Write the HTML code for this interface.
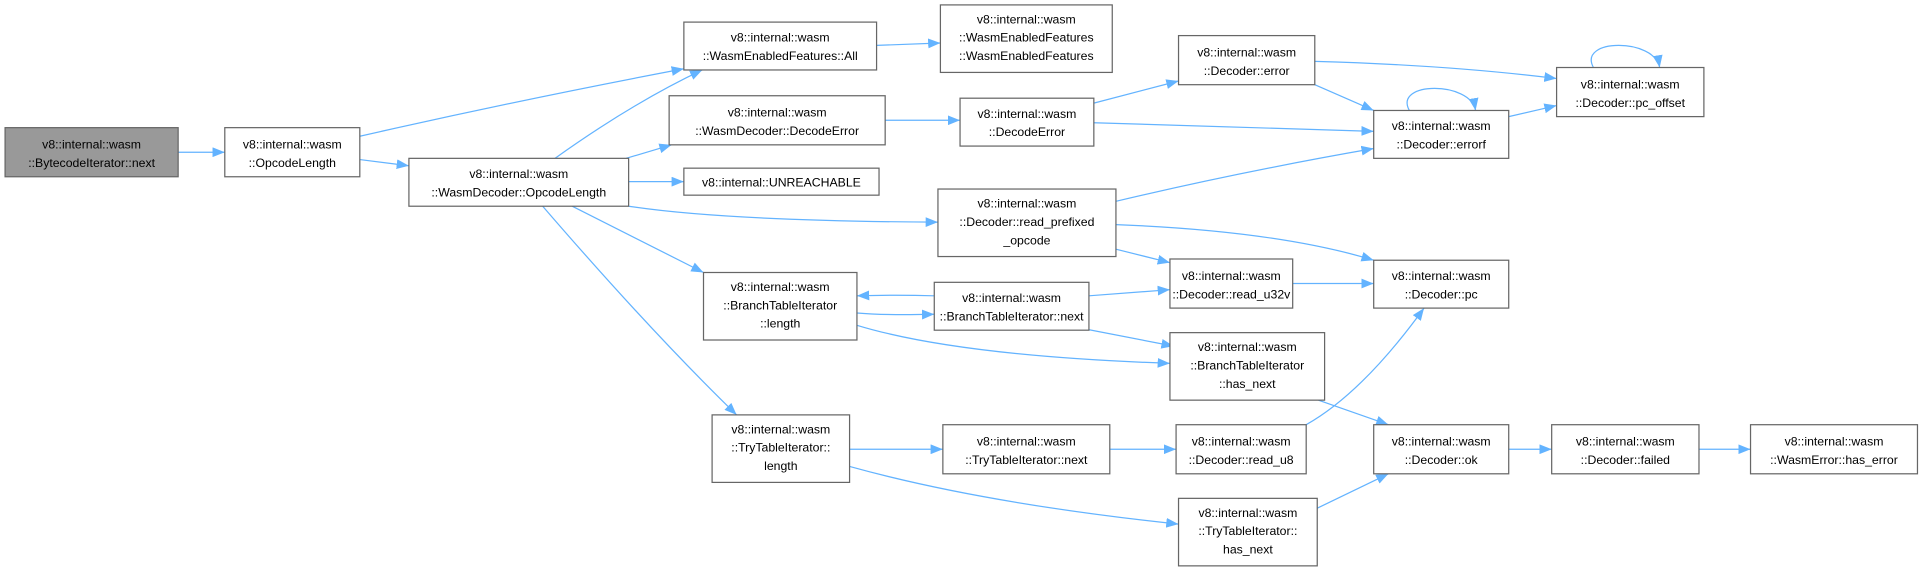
<!DOCTYPE html>
<html><head><meta charset="utf-8"><style>
html,body{margin:0;padding:0;background:#fff;}
svg{display:block;}
text{font-family:"Liberation Sans",sans-serif;font-size:10px;fill:#000;text-anchor:middle;}
.n{fill:#fff;stroke:#666;stroke-width:1;}
.e{fill:none;stroke:#63b3ff;stroke-width:1;}
</style></head><body>
<svg width="1925" height="572" viewBox="0 0 1568 466" xmlns="http://www.w3.org/2000/svg">
<defs><marker id="a" markerWidth="10" markerHeight="8" refX="10" refY="4" orient="auto" markerUnits="userSpaceOnUse"><path d="M0,0 L10,4 L0,8 z" fill="#63b3ff"/></marker></defs>
<g class="edges">
<path class="e" marker-end="url(#a)" d="M145,124 L183,124"/>
<path class="e" marker-end="url(#a)" d="M293,111 Q420,82 557,56"/>
<path class="e" marker-end="url(#a)" d="M293,130 L333,135"/>
<path class="e" marker-end="url(#a)" d="M452,129 Q515,84 572,57"/>
<path class="e" marker-end="url(#a)" d="M510,129 L547,118"/>
<path class="e" marker-end="url(#a)" d="M512,148 L557,148"/>
<path class="e" marker-end="url(#a)" d="M512,168 Q590,180 764,181"/>
<path class="e" marker-end="url(#a)" d="M466,168 L573,222"/>
<path class="e" marker-end="url(#a)" d="M442,168 Q530,270 600,338"/>
<path class="e" marker-end="url(#a)" d="M714,37 L766,35"/>
<path class="e" marker-end="url(#a)" d="M721,98 L782,98"/>
<path class="e" marker-end="url(#a)" d="M891,84 L960,66"/>
<path class="e" marker-end="url(#a)" d="M891,100 L1119,107"/>
<path class="e" marker-end="url(#a)" d="M1071,50 Q1180,53 1268,64"/>
<path class="e" marker-end="url(#a)" d="M1071,69 L1119,90"/>
<path class="e" marker-end="url(#a)" d="M1229,95 L1268,86"/>
<path class="e" marker-end="url(#a)" d="M1148,90 C1135,66 1198,66 1202,90"/>
<path class="e" marker-end="url(#a)" d="M1298,55 C1285,31 1348,31 1352,55"/>
<path class="e" marker-end="url(#a)" d="M909,164 Q1010,140 1119,121"/>
<path class="e" marker-end="url(#a)" d="M909,183 Q1040,188 1119,212"/>
<path class="e" marker-end="url(#a)" d="M909,203 L953,214"/>
<path class="e" marker-end="url(#a)" d="M698,255 Q720,257 761,256"/>
<path class="e" marker-end="url(#a)" d="M761,241 Q730,240 698,241"/>
<path class="e" marker-end="url(#a)" d="M887,241 L953,236"/>
<path class="e" marker-end="url(#a)" d="M884,268 L956,282"/>
<path class="e" marker-end="url(#a)" d="M698,265 Q780,290 953,296"/>
<path class="e" marker-end="url(#a)" d="M1074,326 L1131,346"/>
<path class="e" marker-end="url(#a)" d="M692,366 L768,366"/>
<path class="e" marker-end="url(#a)" d="M692,380 Q800,410 960,427"/>
<path class="e" marker-end="url(#a)" d="M904,366 L958,366"/>
<path class="e" marker-end="url(#a)" d="M1064,346 Q1110,320 1160,251"/>
<path class="e" marker-end="url(#a)" d="M1073,414 L1131,386"/>
<path class="e" marker-end="url(#a)" d="M1229,366 L1264,366"/>
<path class="e" marker-end="url(#a)" d="M1384,366 L1426,366"/>
<path class="e" marker-end="url(#a)" d="M1053,231 L1119,231"/>
</g>
<g>
<rect x="4" y="104" width="141" height="40" fill="#999" stroke="#666"/>
<text x="74.5" y="121">v8::internal::wasm</text><text x="74.5" y="136">::BytecodeIterator::next</text>

<rect class="n" x="183" y="104" width="110" height="40"/>
<text x="238" y="121">v8::internal::wasm</text><text x="238" y="136">::OpcodeLength</text>

<rect class="n" x="333" y="129" width="179" height="39"/>
<text x="422.5" y="145">v8::internal::wasm</text><text x="422.5" y="160">::WasmDecoder::OpcodeLength</text>

<rect class="n" x="557" y="18" width="157" height="39"/>
<text x="635.5" y="34">v8::internal::wasm</text><text x="635.5" y="49">::WasmEnabledFeatures::All</text>

<rect class="n" x="766" y="4" width="140" height="55"/>
<text x="836" y="19">v8::internal::wasm</text><text x="836" y="34">::WasmEnabledFeatures</text><text x="836" y="49">::WasmEnabledFeatures</text>

<rect class="n" x="545" y="78" width="176" height="40"/>
<text x="633" y="95">v8::internal::wasm</text><text x="633" y="110">::WasmDecoder::DecodeError</text>

<rect class="n" x="557" y="137" width="159" height="22"/>
<text x="636.5" y="152">v8::internal::UNREACHABLE</text>

<rect class="n" x="782" y="80" width="109" height="39"/>
<text x="836.5" y="96">v8::internal::wasm</text><text x="836.5" y="111">::DecodeError</text>

<rect class="n" x="960" y="29" width="111" height="40"/>
<text x="1015.5" y="46">v8::internal::wasm</text><text x="1015.5" y="61">::Decoder::error</text>

<rect class="n" x="1268" y="55" width="120" height="40"/>
<text x="1328" y="72">v8::internal::wasm</text><text x="1328" y="87">::Decoder::pc_offset</text>

<rect class="n" x="1119" y="90" width="110" height="39"/>
<text x="1174" y="106">v8::internal::wasm</text><text x="1174" y="121">::Decoder::errorf</text>

<rect class="n" x="764" y="154" width="145" height="55"/>
<text x="836.5" y="169">v8::internal::wasm</text><text x="836.5" y="184">::Decoder::read_prefixed</text><text x="836.5" y="199">_opcode</text>

<rect class="n" x="573" y="222" width="125" height="55"/>
<text x="635.5" y="237">v8::internal::wasm</text><text x="635.5" y="252">::BranchTableIterator</text><text x="635.5" y="267">::length</text>

<rect class="n" x="761" y="230" width="126" height="39"/>
<text x="824" y="246">v8::internal::wasm</text><text x="824" y="261">::BranchTableIterator::next</text>

<rect class="n" x="953" y="211" width="100" height="40"/>
<text x="1003" y="228">v8::internal::wasm</text><text x="1003" y="243">::Decoder::read_u32v</text>

<rect class="n" x="1119" y="212" width="110" height="39"/>
<text x="1174" y="228">v8::internal::wasm</text><text x="1174" y="243">::Decoder::pc</text>

<rect class="n" x="953" y="271" width="126" height="55"/>
<text x="1016" y="286">v8::internal::wasm</text><text x="1016" y="301">::BranchTableIterator</text><text x="1016" y="316">::has_next</text>

<rect class="n" x="580" y="338" width="112" height="55"/>
<text x="636" y="353">v8::internal::wasm</text><text x="636" y="368">::TryTableIterator::</text><text x="636" y="383">length</text>

<rect class="n" x="768" y="346" width="136" height="40"/>
<text x="836" y="363">v8::internal::wasm</text><text x="836" y="378">::TryTableIterator::next</text>

<rect class="n" x="958" y="346" width="106" height="40"/>
<text x="1011" y="363">v8::internal::wasm</text><text x="1011" y="378">::Decoder::read_u8</text>

<rect class="n" x="1119" y="346" width="110" height="40"/>
<text x="1174" y="363">v8::internal::wasm</text><text x="1174" y="378">::Decoder::ok</text>

<rect class="n" x="1264" y="346" width="120" height="40"/>
<text x="1324" y="363">v8::internal::wasm</text><text x="1324" y="378">::Decoder::failed</text>

<rect class="n" x="1426" y="346" width="136" height="40"/>
<text x="1494" y="363">v8::internal::wasm</text><text x="1494" y="378">::WasmError::has_error</text>

<rect class="n" x="960" y="406" width="113" height="55"/>
<text x="1016.5" y="421">v8::internal::wasm</text><text x="1016.5" y="436">::TryTableIterator::</text><text x="1016.5" y="451">has_next</text>
</g>
</svg>
</body></html>
